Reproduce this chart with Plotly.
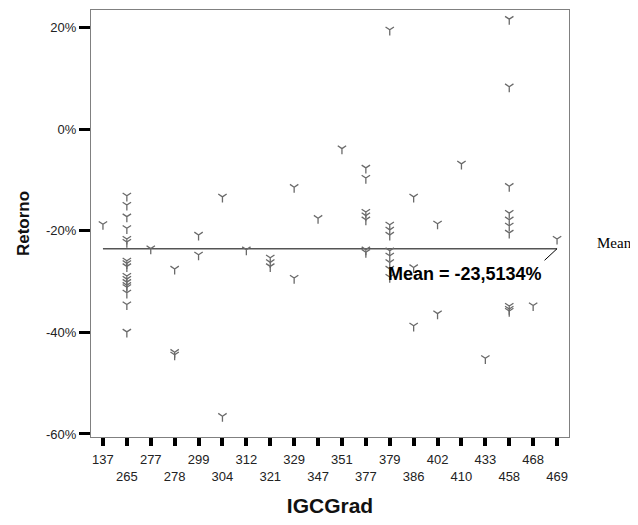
import plotly.graph_objects as go

# Categories on the x axis (IGCGrad)
categories = ["137", "265", "277", "278", "299", "304", "312", "321", "329", "347",
              "351", "377", "379", "386", "402", "410", "433", "458", "468", "469"]

# Retorno values (%) per category
values = {
    "137": [-18.7],
    "265": [-13.1, -14.9, -17.2, -19.5, -21.6, -22.2, -25.9, -26.4, -27.0, -28.9,
            -29.5, -30.1, -30.7, -31.1, -32.2, -34.5, -39.9],
    "277": [-23.5],
    "278": [-27.5, -43.9, -44.4],
    "299": [-20.8, -24.7],
    "304": [-13.3, -56.5],
    "312": [-23.7],
    "321": [-25.3, -26.2, -27.0],
    "329": [-11.4, -29.3],
    "347": [-17.5],
    "351": [-3.8],
    "377": [-7.6, -9.6, -16.3, -17.0, -17.8, -23.7, -24.2],
    "379": [19.6, -18.8, -19.8, -20.8, -23.9, -24.9, -26.2, -27.5, -29.1],
    "386": [-13.3, -27.2, -38.7],
    "402": [-18.6, -36.3],
    "410": [-6.8],
    "433": [-45.1],
    "458": [21.7, 8.4, -11.2, -16.5, -17.8, -19.0, -20.4, -34.8, -35.4, -35.8],
    "468": [-34.7],
    "469": [-21.6],
}

MEAN = -23.5134
mean_label = "Mean = -23,5134%"

y_tick_vals = [20, 0, -20, -40, -60]
y_tick_text = ["20%", "0%", "-20%", "-40%", "-60%"]

# staggered x tick labels (second row for every other category)
x_tick_text = [c if i % 2 == 0 else "<br>" + c for i, c in enumerate(categories)]

xs, ys = [], []
for c in categories:
    for v in values[c]:
        xs.append(c)
        ys.append(v)

last_idx = len(categories) - 1

fig = go.Figure()

fig.add_trace(go.Scatter(
    x=[categories[0], categories[-1]], y=[MEAN, MEAN],
    mode="lines", line=dict(color="#555555", width=1.5),
    hoverinfo="skip", showlegend=False,
))

fig.add_trace(go.Scatter(
    x=xs, y=ys, mode="markers",
    marker=dict(symbol="y-down-open", size=7, color="#6a6a6a",
                line=dict(color="#6a6a6a", width=1.3)),
    showlegend=False,
))

fig.update_layout(
    width=622, height=509,
    margin=dict(l=83, r=61, t=1, b=72),
    paper_bgcolor="white", plot_bgcolor="white",
    font=dict(family="Arial, Liberation Sans, sans-serif", color="#222222"),
    xaxis=dict(
        type="category", categoryorder="array", categoryarray=categories,
        range=[-0.5, 19.5],
        tickvals=categories, ticktext=x_tick_text,
        tickfont=dict(size=13, color="#222222"),
        ticks="outside", ticklen=8, tickwidth=4, tickcolor="black",
        ticklabelstandoff=2,
        showline=True, linecolor="#808080", linewidth=1, mirror=True,
        showgrid=False, zeroline=False,
        title=dict(text="<b>IGCGrad</b>", font=dict(size=21, color="#111111"), standoff=18),
    ),
    yaxis=dict(
        range=[-60.6, 23.5],
        tickvals=y_tick_vals, ticktext=y_tick_text,
        tickfont=dict(size=13, color="#222222"),
        ticks="outside", ticklen=11, tickwidth=3, tickcolor="black",
        showline=True, linecolor="#808080", linewidth=1, mirror=True,
        showgrid=False, zeroline=False,
        title=dict(text="<b>Retorno</b>", font=dict(size=17, color="#111111"), standoff=12),
    ),
)

# callout line from the end of the mean line
fig.add_annotation(
    x=last_idx, y=MEAN, xref="x", yref="y",
    text="", showarrow=True, arrowhead=0, arrowwidth=1, arrowcolor="black",
    ax=-14, ay=13, standoff=0,
)
fig.add_annotation(
    x=last_idx, y=MEAN, xref="x", yref="y",
    text="<b>" + mean_label + "</b>", showarrow=False,
    xanchor="right", yanchor="middle", xshift=-13, yshift=-25,
    font=dict(size=18, color="black", family="Arial, Liberation Sans, sans-serif"),
)
# legend-like label outside the plot
fig.add_annotation(
    x=1.054, y=MEAN, xref="paper", yref="y",
    text="Mean", showarrow=False, xanchor="left", yanchor="middle", yshift=6,
    font=dict(size=15, color="black", family="Liberation Serif, Times New Roman, serif"),
)

fig.write_html("out.html")
